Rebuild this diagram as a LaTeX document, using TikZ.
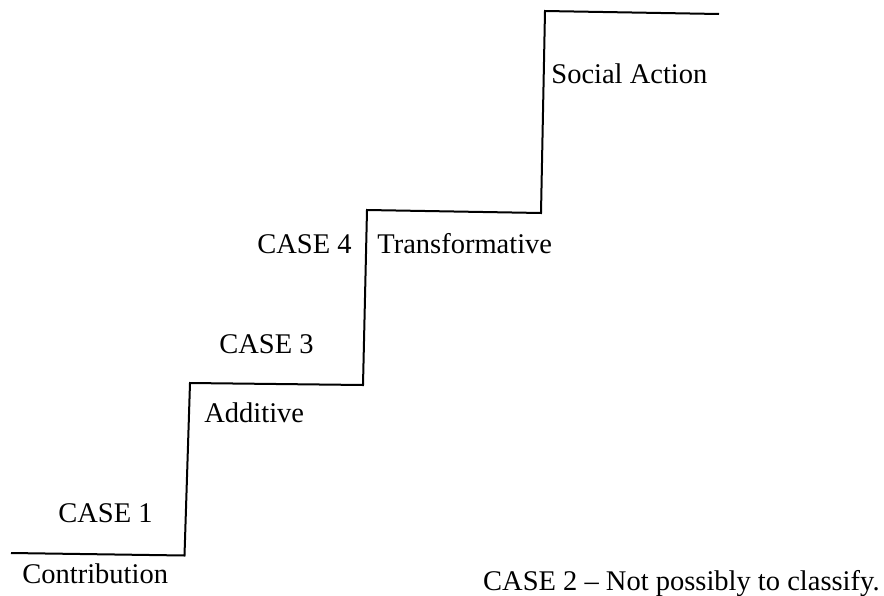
\documentclass[tikz,border=0pt]{standalone}
\usepackage{fontspec}
\setmainfont{Liberation Serif}

\begin{document}
\begin{tikzpicture}[x=0.5pt,y=-0.5pt,
    stair/.style={line width=1pt,line join=miter},
    level/.style={anchor=base west,inner sep=0pt,font=\fontsize{14.25}{17}\selectfont}]
    \useasboundingbox (0,0) rectangle (884,595);
    % corners of the staircase, from the bottom left up to the top right
    \coordinate (s0) at (11,553);
    \coordinate (s1) at (184.5,555.5);
    \coordinate (s2) at (190,383);
    \coordinate (s3) at (363,385);
    \coordinate (s4) at (367,210);
    \coordinate (s5) at (541,213);
    \coordinate (s6) at (545,11);
    \coordinate (s7) at (719,14);
    \draw[stair] (s0) -- (s1) -- (s2) -- (s3) -- (s4) -- (s5) -- (s6) -- (s7);
    \node[level] (case1)   at (58,522.5) {CASE 1};
    \node[level] (contrib) at (22,583)   {Contribution};
    \node[level] (case3)   at (219,353)  {CASE 3};
    \node[level] (additive) at (204,422) {Additive};
    \node[level] (case4)   at (257,253)  {CASE 4};
    \node[level] (transf)  at (377,253)  {Transformative};
    \node[level] (social)  at (551,83)   {Social Action};
    \node[level,anchor=base east] (case2) at (880,590) {CASE 2 -- Not possibly to classify.};
\end{tikzpicture}
\end{document}
